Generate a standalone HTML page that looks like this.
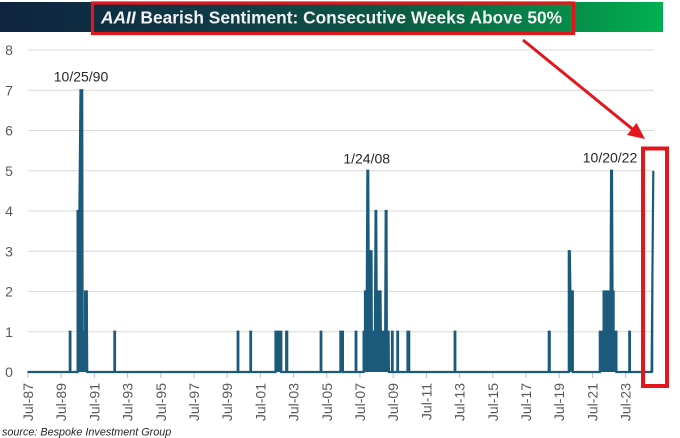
<!DOCTYPE html>
<html>
<head>
<meta charset="utf-8">
<style>
  html, body { margin:0; padding:0; background:#ffffff; }
  body { width:680px; height:438px; overflow:hidden; }
  svg { display:block; }
</style>
</head>
<body>
<svg width="680" height="438" viewBox="0 0 680 438" xmlns="http://www.w3.org/2000/svg">
  <defs>
    <linearGradient id="bg" x1="0" y1="0" x2="1" y2="0">
      <stop offset="0" stop-color="#0e2440"/>
      <stop offset="0.35" stop-color="#0f3c46"/>
      <stop offset="0.6" stop-color="#0b5a43"/>
      <stop offset="0.85" stop-color="#068a49"/>
      <stop offset="1" stop-color="#00b050"/>
    </linearGradient>
  </defs>
  <rect x="0" y="0" width="680" height="438" fill="#ffffff"/>

  <!-- Title banner -->
  <rect x="0" y="2" width="663" height="30" fill="url(#bg)"/>
  <text x="101" y="23.5" font-family="Liberation Sans, sans-serif" font-weight="bold" font-size="17.3" fill="#f2f2f2" textLength="461" lengthAdjust="spacingAndGlyphs"><tspan font-style="italic">AAII</tspan> Bearish Sentiment: Consecutive Weeks Above 50%</text>
  <rect x="92.5" y="3" width="481" height="30.5" fill="none" stroke="#e3161c" stroke-width="3.2"/>

  <!-- Gridlines -->
  <g stroke="#d9d9d9" stroke-width="1">
    <line x1="28" y1="50" x2="654" y2="50"/>
    <line x1="28" y1="90.25" x2="654" y2="90.25"/>
    <line x1="28" y1="130.5" x2="654" y2="130.5"/>
    <line x1="28" y1="170.75" x2="654" y2="170.75"/>
    <line x1="28" y1="211" x2="654" y2="211"/>
    <line x1="28" y1="251.25" x2="654" y2="251.25"/>
    <line x1="28" y1="291.5" x2="654" y2="291.5"/>
    <line x1="28" y1="331.75" x2="654" y2="331.75"/>
  </g>

  <!-- Y labels -->
  <g font-family="Liberation Sans, sans-serif" font-size="14" fill="#595959" text-anchor="middle">
    <text x="9" y="55">8</text>
    <text x="9" y="95.25">7</text>
    <text x="9" y="135.5">6</text>
    <text x="9" y="175.75">5</text>
    <text x="9" y="216">4</text>
    <text x="9" y="256.25">3</text>
    <text x="9" y="296.5">2</text>
    <text x="9" y="336.75">1</text>
    <text x="9" y="377">0</text>
  </g>

  <!-- X ticks -->
  <g stroke="#bfbfbf" stroke-width="1">
    <line x1="28" y1="373" x2="28" y2="378"/>
    <line x1="61.2" y1="373" x2="61.2" y2="378"/>
    <line x1="94.4" y1="373" x2="94.4" y2="378"/>
    <line x1="127.6" y1="373" x2="127.6" y2="378"/>
    <line x1="160.8" y1="373" x2="160.8" y2="378"/>
    <line x1="194" y1="373" x2="194" y2="378"/>
    <line x1="227.2" y1="373" x2="227.2" y2="378"/>
    <line x1="260.4" y1="373" x2="260.4" y2="378"/>
    <line x1="293.6" y1="373" x2="293.6" y2="378"/>
    <line x1="326.8" y1="373" x2="326.8" y2="378"/>
    <line x1="360" y1="373" x2="360" y2="378"/>
    <line x1="393.2" y1="373" x2="393.2" y2="378"/>
    <line x1="426.4" y1="373" x2="426.4" y2="378"/>
    <line x1="459.6" y1="373" x2="459.6" y2="378"/>
    <line x1="492.8" y1="373" x2="492.8" y2="378"/>
    <line x1="526" y1="373" x2="526" y2="378"/>
    <line x1="559.2" y1="373" x2="559.2" y2="378"/>
    <line x1="592.4" y1="373" x2="592.4" y2="378"/>
    <line x1="625.6" y1="373" x2="625.6" y2="378"/>
  </g>

  <!-- X labels (rotated) -->
  <g font-family="Liberation Sans, sans-serif" font-size="14" fill="#595959" text-anchor="end">
    <text transform="translate(33,383) rotate(-90)">Jul-87</text>
    <text transform="translate(66.2,383) rotate(-90)">Jul-89</text>
    <text transform="translate(99.4,383) rotate(-90)">Jul-91</text>
    <text transform="translate(132.6,383) rotate(-90)">Jul-93</text>
    <text transform="translate(165.8,383) rotate(-90)">Jul-95</text>
    <text transform="translate(199,383) rotate(-90)">Jul-97</text>
    <text transform="translate(232.2,383) rotate(-90)">Jul-99</text>
    <text transform="translate(265.4,383) rotate(-90)">Jul-01</text>
    <text transform="translate(298.6,383) rotate(-90)">Jul-03</text>
    <text transform="translate(331.8,383) rotate(-90)">Jul-05</text>
    <text transform="translate(365,383) rotate(-90)">Jul-07</text>
    <text transform="translate(398.2,383) rotate(-90)">Jul-09</text>
    <text transform="translate(431.4,383) rotate(-90)">Jul-11</text>
    <text transform="translate(464.6,383) rotate(-90)">Jul-13</text>
    <text transform="translate(497.8,383) rotate(-90)">Jul-15</text>
    <text transform="translate(531,383) rotate(-90)">Jul-17</text>
    <text transform="translate(564.2,383) rotate(-90)">Jul-19</text>
    <text transform="translate(597.4,383) rotate(-90)">Jul-21</text>
    <text transform="translate(630.6,383) rotate(-90)">Jul-23</text>
  </g>

  <!-- Series fill -->
  <path fill="#1c5a7c" stroke="none" d="
    M27.5,372
    L69.8,372 L69.8,331.75 L70.4,331.75 L70.4,372
    L77.6,372 L77.6,211 L79.4,211 L80.5,90.25 L82.2,90.25 L82.6,331.75 L85,331.75 L85,291.5 L86.8,291.5 L87.2,372
    L114.4,372 L114.4,331.75 L115,331.75 L115,372
    L237.7,372 L237.7,331.75 L238.3,331.75 L238.3,372
    L250.4,372 L250.4,331.75 L251,331.75 L251,372
    L275.5,372 L275.5,331.75 L281.3,331.75 L281.3,372
    L286.2,372 L286.2,331.75 L287.2,331.75 L287.2,372
    L320.7,372 L320.7,331.75 L321.3,331.75 L321.3,372
    L340.4,372 L340.4,331.75 L342.9,331.75 L342.9,372
    L355.7,372 L355.7,331.75 L356.3,331.75 L356.3,372
    L363.6,372 L363.6,331.75 L365,331.75 L365,291.5 L366.8,291.5 L367.4,170.75 L368.2,170.75 L368.6,251.25 L371.5,251.25 L371.8,331.75 L374.9,331.75 L375.6,211 L376.2,211 L376.6,291.5 L380.5,291.5 L380.8,331.75 L385.2,331.75 L385.7,211 L386.5,211 L386.8,331.75 L388.6,331.75 L388.9,372
    L392,372 L392,331.75 L392.6,331.75 L392.6,372
    L397.4,372 L397.4,331.75 L398,331.75 L398,372
    L407.5,372 L407.5,331.75 L409.2,331.75 L409.2,372
    L454.7,372 L454.7,331.75 L455.3,331.75 L455.3,372
    L548.8,372 L548.8,331.75 L549.7,331.75 L549.7,372
    L568.8,372 L568.8,251.25 L569.8,251.25 L570.4,291.5 L572.8,291.5 L572.8,372
    L599.8,372 L599.8,331.75 L603.6,331.75 L603.6,291.5 L610.6,291.5 L611.1,170.75 L612,170.75 L612.5,291.5 L613.6,291.5 L613.6,331.75 L616.4,331.75 L616.4,372
    L629.3,372 L629.3,331.75 L629.9,331.75 L629.9,372
    L651.6,372 L653.3,170.75 L653.3,372 Z"/>

  <!-- Series line -->
  <path fill="none" stroke="#1c5a7c" stroke-width="2.2" stroke-linejoin="miter" d="
    M27.5,372
    L69.8,372 L69.8,331.75 L70.4,331.75 L70.4,372
    L77.6,372 L77.6,211 L79.4,211 L80.5,90.25 L82.2,90.25 L82.6,331.75 L85,331.75 L85,291.5 L86.8,291.5 L87.2,372
    L114.4,372 L114.4,331.75 L115,331.75 L115,372
    L237.7,372 L237.7,331.75 L238.3,331.75 L238.3,372
    L250.4,372 L250.4,331.75 L251,331.75 L251,372
    L275.5,372 L275.5,331.75 L281.3,331.75 L281.3,372
    L286.2,372 L286.2,331.75 L287.2,331.75 L287.2,372
    L320.7,372 L320.7,331.75 L321.3,331.75 L321.3,372
    L340.4,372 L340.4,331.75 L342.9,331.75 L342.9,372
    L355.7,372 L355.7,331.75 L356.3,331.75 L356.3,372
    L363.6,372 L363.6,331.75 L365,331.75 L365,291.5 L366.8,291.5 L367.4,170.75 L368.2,170.75 L368.6,251.25 L371.5,251.25 L371.8,331.75 L374.9,331.75 L375.6,211 L376.2,211 L376.6,291.5 L380.5,291.5 L380.8,331.75 L385.2,331.75 L385.7,211 L386.5,211 L386.8,331.75 L388.6,331.75 L388.9,372
    L392,372 L392,331.75 L392.6,331.75 L392.6,372
    L397.4,372 L397.4,331.75 L398,331.75 L398,372
    L407.5,372 L407.5,331.75 L409.2,331.75 L409.2,372
    L454.7,372 L454.7,331.75 L455.3,331.75 L455.3,372
    L548.8,372 L548.8,331.75 L549.7,331.75 L549.7,372
    L568.8,372 L568.8,251.25 L569.8,251.25 L570.4,291.5 L572.8,291.5 L572.8,372
    L599.8,372 L599.8,331.75 L603.6,331.75 L603.6,291.5 L610.6,291.5 L611.1,170.75 L612,170.75 L612.5,291.5 L613.6,291.5 L613.6,331.75 L616.4,331.75 L616.4,372
    L629.3,372 L629.3,331.75 L629.9,331.75 L629.9,372
    L651.6,372 L653.3,170.75"/>

  <!-- Annotations -->
  <g font-family="Liberation Sans, sans-serif" font-size="14" fill="#262626" text-anchor="middle">
    <text x="81" y="81.5">10/25/90</text>
    <text x="366.7" y="163.3">1/24/08</text>
    <text x="610" y="162.3">10/20/22</text>
  </g>

  <!-- Red highlight box -->
  <rect x="643" y="148.5" width="24" height="237.5" fill="none" stroke="#e3161c" stroke-width="4"/>

  <!-- Arrow -->
  <line x1="523" y1="40" x2="633" y2="129.5" stroke="#e3161c" stroke-width="3"/>
  <polygon points="645,139 627,135 636.5,123" fill="#e3161c"/>

  <!-- Source -->
  <text x="2" y="435.5" font-family="Liberation Sans, sans-serif" font-style="italic" font-size="10.8" fill="#262626">source: Bespoke Investment Group</text>
</svg>
</body>
</html>
